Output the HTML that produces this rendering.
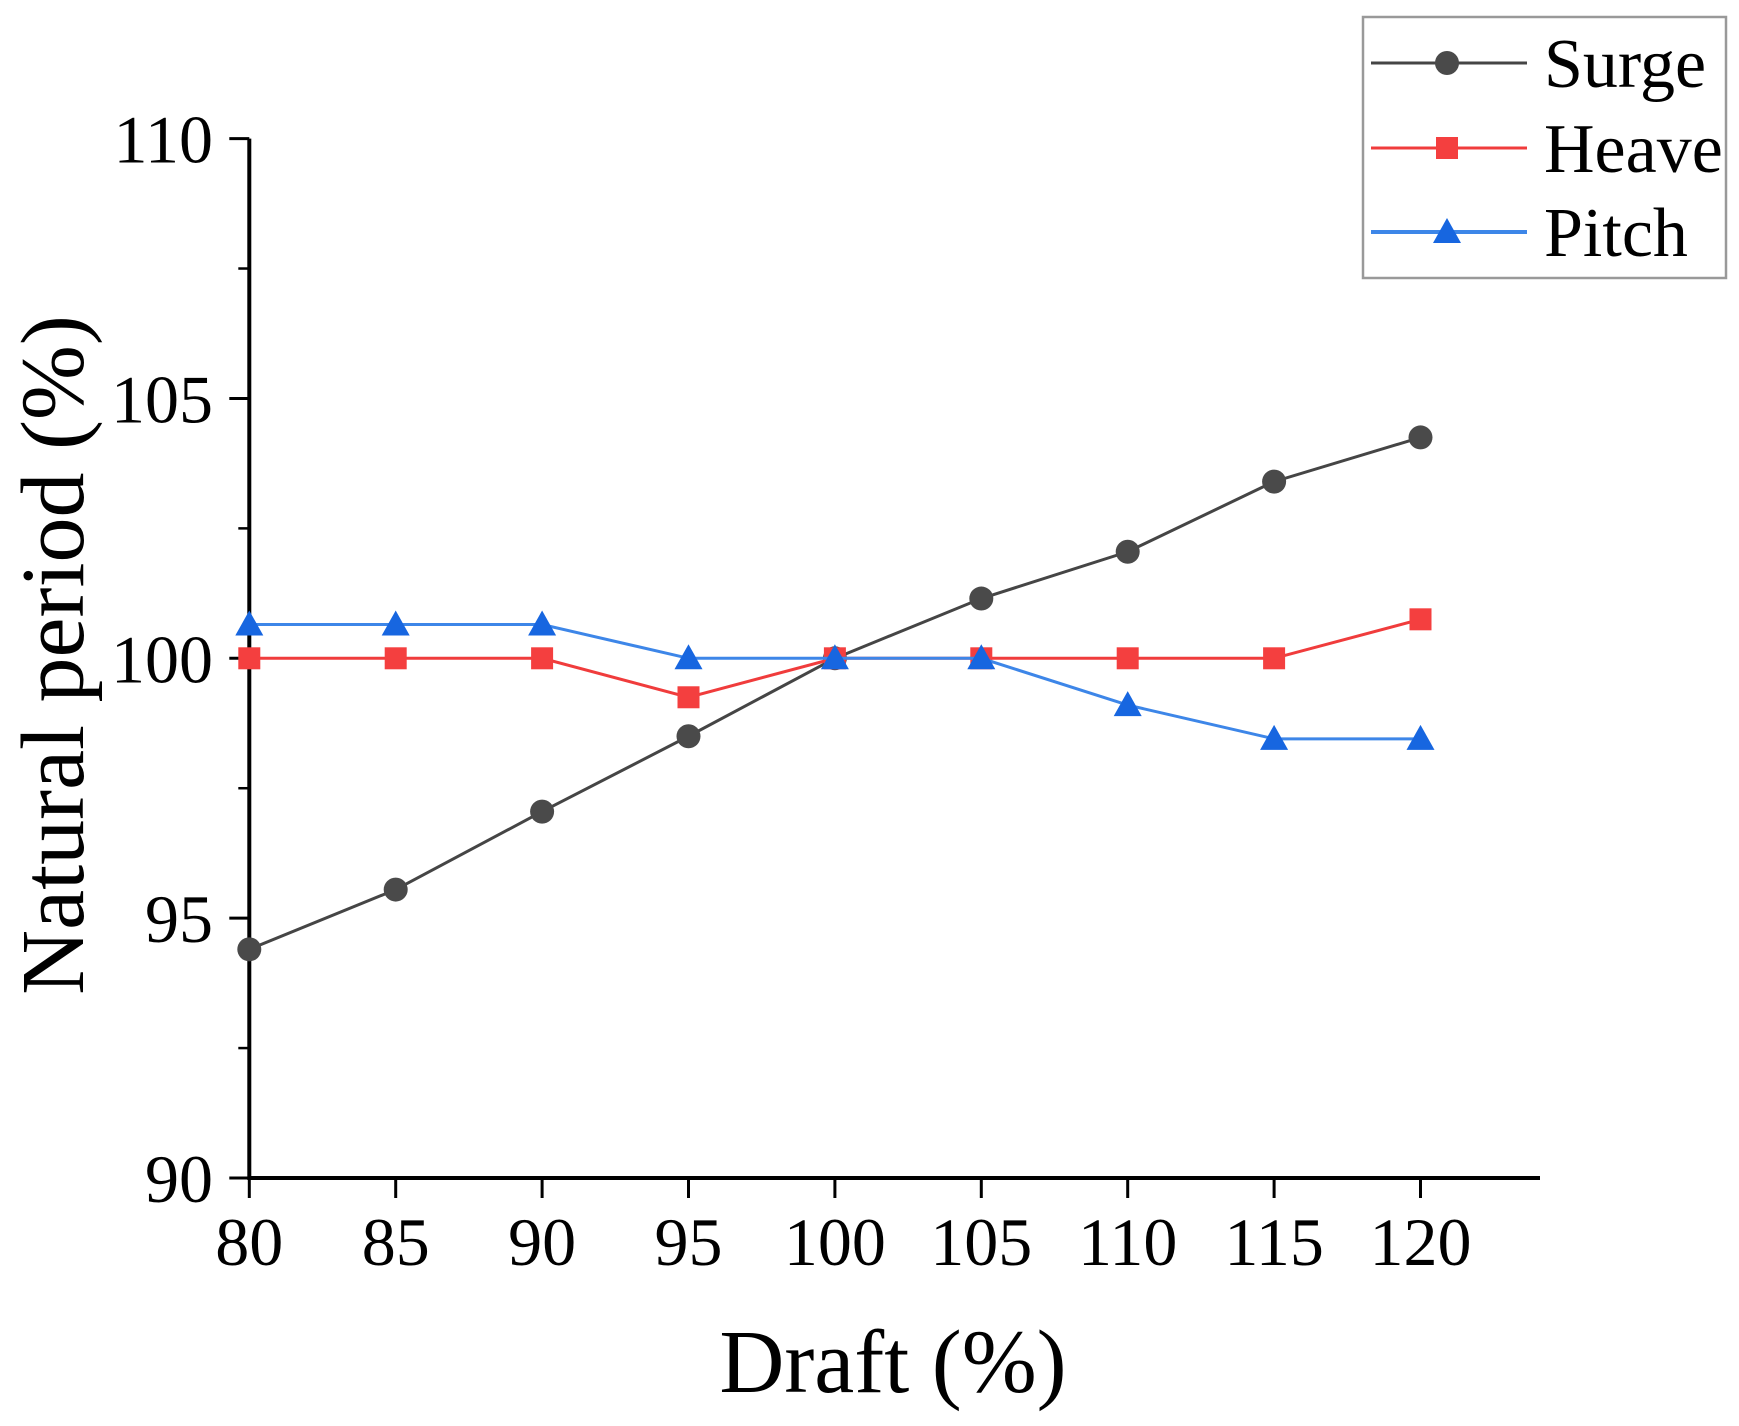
<!DOCTYPE html>
<html><head><meta charset="utf-8"><style>
html,body{margin:0;padding:0;background:#fff}
svg{display:block}
text{font-family:"Liberation Serif",serif;fill:#000}
</style></head><body>
<svg id="chart" width="1739" height="1426" viewBox="0 0 1739 1426" xmlns="http://www.w3.org/2000/svg">
<g id="axes"></g>
<g id="series"></g>
<g id="legend">
<rect x="1363" y="17" width="363" height="261" fill="#fff" stroke="#999" stroke-width="2.5"/>
</g>
<text x="893" y="1392" font-size="90" text-anchor="middle">Draft (%)</text>
<text transform="translate(83,655) rotate(-90)" font-size="90" text-anchor="middle">Natural period  (%)</text>
</svg>
<script>
const categories=[80,85,90,95,100,105,110,115,120];
const surge=[94.4,95.55,97.05,98.5,100,101.15,102.05,103.4,104.25];
const heave=[100,100,100,99.25,100,100,100,100,100.75];
const pitch=[100.65,100.65,100.65,100,100,100,99.1,98.45,98.45];
const xTicks=[80,85,90,95,100,105,110,115,120];
const yTicks=[90,95,100,105,110];
const seriesNames=["Surge","Heave","Pitch"];

const NS="http://www.w3.org/2000/svg";
const X0=249.3,X1=1420.5,Y0=1178,Y1=138.6;
function xs(v){return X0+(v-80)/40*(X1-X0);}
function ys(v){return Y0-(v-90)/20*(Y0-Y1);}
function mk(tag,attrs,parent){const e=document.createElementNS(NS,tag);for(const k in attrs)e.setAttribute(k,attrs[k]);parent.appendChild(e);return e;}
const axes=document.getElementById('axes');
let e=mk('line',{x1:X0,y1:Y0,x2:1540,y2:Y0,stroke:'#000','stroke-width':4},axes);


e=mk('line',{x1:X0,y1:Y0+2,x2:X0,y2:Y1,stroke:'#000','stroke-width':4},axes);


xTicks.forEach(v=>{
  const t=mk('line',{x1:xs(v),y1:Y0,x2:xs(v),y2:Y0+20,stroke:'#000','stroke-width':3},axes);
  
  
  const l=mk('text',{x:xs(v),y:1265,'font-size':68,'text-anchor':'middle'},axes);
  l.textContent=v;
  
  
});
yTicks.forEach((v,i)=>{
  const t=mk('line',{x1:X0-20,y1:ys(v),x2:X0,y2:ys(v),stroke:'#000','stroke-width':3},axes);
  
  
  if(i<yTicks.length-1){
    const m=mk('line',{x1:X0-11,y1:ys(v+2.5),x2:X0,y2:ys(v+2.5),stroke:'#000','stroke-width':2.5},axes);
    
    
  }
  const l=mk('text',{x:213,y:ys(v)+24,'font-size':68,'text-anchor':'end'},axes);
  l.textContent=v;
  
  
});
const cfg=[{data:surge,line:'#454545',fill:'#4a4a4a',shape:'circle'},{data:heave,line:'#f03c3c',fill:'#f43f3f',shape:'square'},{data:pitch,line:'#3d86e8',fill:'#1766e0',shape:'tri'}];
const sg=document.getElementById('series');
function marker(shape,x,y,fill,parent){
  if(shape==='circle')return mk('circle',{cx:x,cy:y,r:12,fill:fill},parent);
  if(shape==='square')return mk('rect',{x:x-11,y:y-11,width:22,height:22,fill:fill},parent);
  return mk('polygon',{points:`${x},${y-14} ${x-14},${y+11} ${x+14},${y+11}`,fill:fill},parent);
}
cfg.forEach((c,si)=>{
  const g=mk('g',{},sg);
  
  
  const pl=mk('polyline',{points:c.data.map((v,i)=>xs(categories[i])+','+ys(v)).join(' '),fill:'none',stroke:c.line,'stroke-width':3},g);
  
  
  c.data.forEach((v,i)=>{
    const m=marker(c.shape,xs(categories[i]),ys(v),c.fill,g);
    
    
  });
});
const lg=document.getElementById('legend');
const rows=[63,148,232];
cfg.forEach((c,si)=>{
  const g=mk('g',{},lg);
  
  
  mk('line',{x1:1371,y1:rows[si],x2:1527,y2:rows[si],stroke:c.line,'stroke-width':si===2?4:3},g);
  marker(c.shape,1447,rows[si],c.fill,g);
  const t=mk('text',{x:1544,y:rows[si]+24,'font-size':70},g);
  t.textContent=seriesNames[si];
});
</script>
</body></html>
